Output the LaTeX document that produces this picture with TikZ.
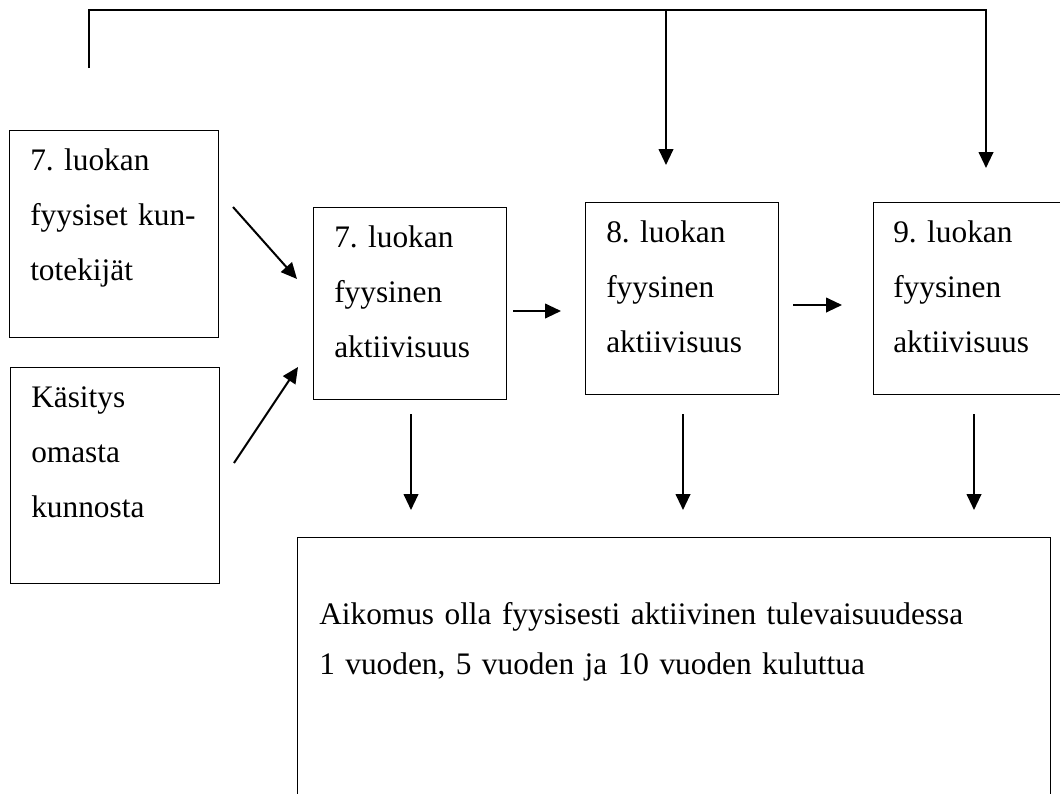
\documentclass[tikz,border=0pt]{standalone}
\usepackage{fontspec}
\setmainfont{Liberation Serif}
\frenchspacing
\usetikzlibrary{arrows.meta}
\tikzset{
  boxnode/.style={draw, line width=1pt, inner sep=0pt, anchor=north west},
  txt/.style={anchor=base west, inner sep=0pt, align=left, text width=#1,
    font=\fontsize{23.5pt}{41.25pt}\selectfont\frenchspacing},
  txt/.default=190pt,
  conn/.style={line width=1.5pt, -{Triangle[length=12pt,width=11pt]}}
}
\begin{document}
\begin{tikzpicture}[x=0.75pt,y=-0.75pt]
\useasboundingbox (0,0) rectangle (1060,793);
\begin{scope}
\clip (0,0) rectangle (1060,793);
% boxes
\node[boxnode, minimum width=209*0.75pt, minimum height=207*0.75pt] (A) at (9,130) {};
\node[boxnode, minimum width=209*0.75pt, minimum height=216*0.75pt] (B) at (10,367) {};
\node[boxnode, minimum width=193*0.75pt, minimum height=192*0.75pt] (C) at (313,207) {};
\node[boxnode, minimum width=193*0.75pt, minimum height=192*0.75pt] (D) at (585,202) {};
\node[boxnode, minimum width=230*0.75pt, minimum height=192*0.75pt] (E) at (873,202) {};
\node[boxnode, minimum width=753*0.75pt, minimum height=280*0.75pt] (F) at (297,537) {};
\end{scope}
% texts
\node[txt] (tA) at (30,170) {7. luokan\\fyysiset kun-\\totekijät};
\node[txt] (tB) at (31,407) {Käsitys\\omasta\\kunnosta};
\node[txt] (tC) at (334,247) {7. luokan\\fyysinen\\aktiivisuus};
\node[txt] (tD) at (606,242) {8. luokan\\fyysinen\\aktiivisuus};
\node[txt] (tE) at (893,242) {9. luokan\\fyysinen\\aktiivisuus};
\node[txt=600pt, font=\fontsize{23.5pt}{37.5pt}\selectfont\frenchspacing] (tF) at (319,624)
  {Aikomus olla fyysisesti aktiivinen tulevaisuudessa\\1 vuoden, 5 vuoden ja 10 vuoden kuluttua};
% connector end points
\coordinate (a1s) at (233,207); \coordinate (a1e) at (297,279);
\coordinate (a2s) at (234,463); \coordinate (a2e) at (298,367);
\coordinate (a3s) at (513,311); \coordinate (a3e) at (561,311);
\coordinate (a4s) at (793,305); \coordinate (a4e) at (842,305);
\coordinate (d1s) at (411,414); \coordinate (d1e) at (411,510);
\coordinate (d2s) at (683,414); \coordinate (d2e) at (683,510);
\coordinate (d3s) at (974,414); \coordinate (d3e) at (974,510);
\coordinate (t0) at (89,68);
\coordinate (t1) at (89,10);
\coordinate (t2) at (986,10);
\coordinate (t3) at (986,168);
\coordinate (tb) at (666,10);
\coordinate (tbe) at (666,165);
% connectors
\draw[conn] (a1s) -- (a1e);
\draw[conn] (a2s) -- (a2e);
\draw[conn] (a3s) -- (a3e);
\draw[conn] (a4s) -- (a4e);
\draw[conn] (d1s) -- (d1e);
\draw[conn] (d2s) -- (d2e);
\draw[conn] (d3s) -- (d3e);
\draw[conn, line join=miter] (t0) -- (t1) -- (t2) -- (t3);
\draw[conn] (tb) -- (tbe);
\end{tikzpicture}
\end{document}
